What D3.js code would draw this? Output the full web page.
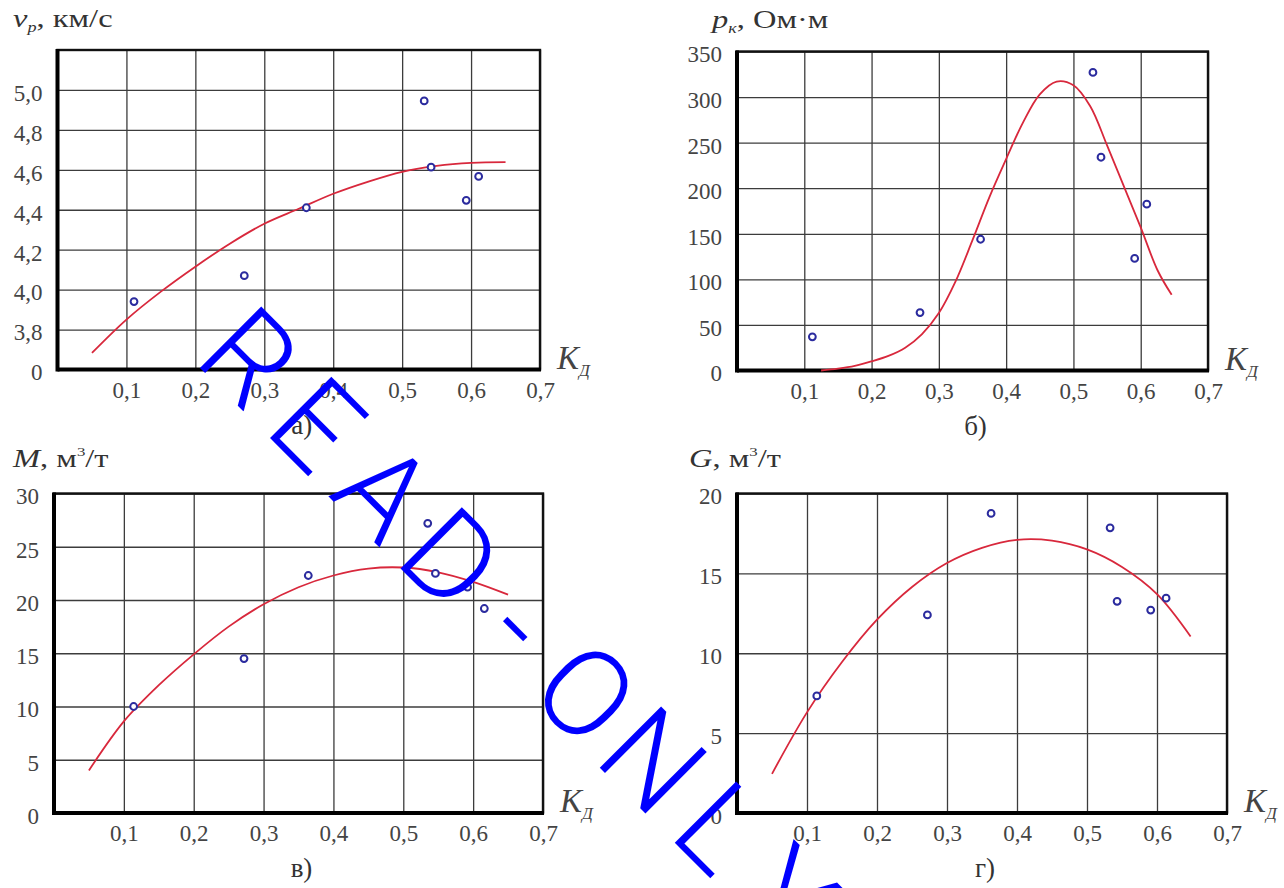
<!DOCTYPE html>
<html>
<head>
<meta charset="utf-8">
<script src="https://cdn.jsdelivr.net/npm/d3@7"></script>
<style>
body { margin: 0; background: #fff; }
svg { display: block; }
</style>
</head>
<body>
<div id="chart"></div>
<script>
const serif = "'Liberation Serif', 'Times New Roman', serif";

// shared x axis (K_Д)
const kTicks = [0.1, 0.2, 0.3, 0.4, 0.5, 0.6, 0.7];
const kTickLabels = ["0,1", "0,2", "0,3", "0,4", "0,5", "0,6", "0,7"];

// а) v_р, км/с
const vpK = [0.111, 0.271, 0.361, 0.532, 0.542, 0.593, 0.611];
const vpVal = [3.94, 4.07, 4.41, 4.945, 4.613, 4.447, 4.567];
const vpFitK = [0.05, 0.10, 0.15, 0.20, 0.25, 0.30, 0.35, 0.40, 0.45, 0.50, 0.55, 0.60, 0.65];
const vpFitVal = [3.683, 3.85, 3.99, 4.115, 4.23, 4.33, 4.405, 4.48, 4.54, 4.59, 4.62, 4.635, 4.638];
const vpTicks = [3.6, 3.8, 4.0, 4.2, 4.4, 4.6, 4.8, 5.0];
const vpTickLabels = ["0", "3,8", "4,0", "4,2", "4,4", "4,6", "4,8", "5,0"];

// б) p_к, Ом·м
const rhoK = [0.112, 0.272, 0.362, 0.529, 0.541, 0.591, 0.609];
const rhoVal = [37, 63.5, 144, 327, 234, 123, 182.5];
const rhoFitK = [0.125, 0.15, 0.175, 0.20, 0.225, 0.25, 0.275, 0.30, 0.325, 0.35, 0.375, 0.40, 0.425,
                 0.45, 0.475, 0.50, 0.525, 0.55, 0.575, 0.60, 0.625, 0.646];
const rhoFitVal = [0, 2, 5, 10, 16, 25, 40, 63, 98, 143, 190, 232, 272, 303, 317, 313, 290, 247, 202, 157, 110, 83];
const rhoTicks = [0, 50, 100, 150, 200, 250, 300, 350];
const rhoTickLabels = ["0", "50", "100", "150", "200", "250", "300", "350"];

// в) M, м3/т
const mK = [0.114, 0.272, 0.364, 0.535, 0.546, 0.592, 0.616];
const mVal = [10.0, 14.5, 22.3, 27.2, 22.5, 21.2, 19.2];
const mFitK = [0.05, 0.10, 0.15, 0.20, 0.25, 0.30, 0.35, 0.40, 0.45, 0.50, 0.55, 0.60, 0.65];
const mFitVal = [4.0, 8.6, 12.0, 14.9, 17.5, 19.6, 21.2, 22.3, 22.95, 23.05, 22.6, 21.7, 20.5];
const mTicks = [0, 5, 10, 15, 20, 25, 30];
const mTickLabels = ["0", "5", "10", "15", "20", "25", "30"];

// г) G, м3/т
const gK = [0.114, 0.272, 0.363, 0.533, 0.543, 0.591, 0.613];
const gVal = [7.33, 12.4, 18.75, 17.85, 13.25, 12.7, 13.45];
const gFitK = [0.05, 0.10, 0.15, 0.20, 0.25, 0.30, 0.35, 0.40, 0.45, 0.50, 0.55, 0.60, 0.648];
const gFitVal = [2.45, 6.3, 9.45, 12.1, 14.15, 15.65, 16.6, 17.1, 17.05, 16.5, 15.4, 13.7, 11.05];
const gTicks = [0, 5, 10, 15, 20];
const gTickLabels = ["0", "5", "10", "15", "20"];

const watermark = "READ-ONLY";

const W = 1284, H = 888;

const panels = [
    {box: {l: 57.5, r: 540, t: 50, b: 369.5}, yDomain: [3.6, 5.2], k: vpK, v: vpVal, fk: vpFitK, fv: vpFitVal,
     ticks: vpTicks, labels: vpTickLabels, title: "v", sub: "р", unit: ", км/с", sup: null, letter: "а)"},
    {box: {l: 737, r: 1208, t: 51.5, b: 370.5}, yDomain: [0, 350], k: rhoK, v: rhoVal, fk: rhoFitK, fv: rhoFitVal,
     ticks: rhoTicks, labels: rhoTickLabels, title: "p", sub: "к", unit: ", Ом·м", sup: null, letter: "б)"},
    {box: {l: 54, r: 543, t: 493.5, b: 813}, yDomain: [0, 30], k: mK, v: mVal, fk: mFitK, fv: mFitVal,
     ticks: mTicks, labels: mTickLabels, title: "M", sub: null, unit: ", м", sup: "3", letter: "в)"},
    {box: {l: 737, r: 1227, t: 493.5, b: 813}, yDomain: [0, 20], k: gK, v: gVal, fk: gFitK, fv: gFitVal,
     ticks: gTicks, labels: gTickLabels, title: "G", sub: null, unit: ", м", sup: "3", letter: "г)"}
];
const titlePos = [[13, 27], [712, 28], [13, 467], [689, 467]];

const svg = d3.select("#chart").append("svg")
    .attr("width", W).attr("height", H)
    .style("background", "#fff");

panels.forEach((p, i) => drawPanel(p, titlePos[i]));

function drawPanel(p, tp) {
    const bx = p.box;
    const x = d3.scaleLinear().domain([0, 0.7]).range([bx.l, bx.r]);
    const y = d3.scaleLinear().domain(p.yDomain).range([bx.b, bx.t]);
    const g = svg.append("g");

    //grid
    g.append("g")
        .attr("transform", `translate(0,${bx.b})`)
        .call(d3.axisBottom(x).tickValues(kTicks).tickSize(-(bx.b - bx.t)).tickFormat(""))
        .call(s => s.select(".domain").remove())
        .selectAll("line").attr("stroke", "#3c3c3c").attr("stroke-width", 1.3);
    g.append("g")
        .attr("transform", `translate(${bx.l},0)`)
        .call(d3.axisLeft(y).tickValues(p.ticks).tickSize(-(bx.r - bx.l)).tickFormat(""))
        .call(s => s.select(".domain").remove())
        .selectAll("line").attr("stroke", "#3c3c3c").attr("stroke-width", 1.3);

    //frame
    g.append("rect")
        .attr("x", bx.l).attr("y", bx.t)
        .attr("width", bx.r - bx.l).attr("height", bx.b - bx.t)
        .attr("fill", "none").attr("stroke", "#111").attr("stroke-width", 2.4);
    g.append("line").attr("x1", bx.l).attr("x2", bx.l).attr("y1", bx.t - 1).attr("y2", bx.b + 2)
        .attr("stroke", "#000").attr("stroke-width", 4);
    g.append("line").attr("x1", bx.l).attr("x2", bx.r + 1).attr("y1", bx.b).attr("y2", bx.b)
        .attr("stroke", "#000").attr("stroke-width", 4);

    //tick labels
    const xa = g.append("g")
        .attr("transform", `translate(0,${bx.b})`)
        .call(d3.axisBottom(x).tickValues(kTicks).tickSize(0).tickPadding(12).tickFormat((d, j) => kTickLabels[j]));
    xa.select(".domain").remove();
    xa.attr("font-family", serif).attr("font-size", 23);
    xa.selectAll("text").attr("fill", "#444").attr("font-family", serif);

    const ya = g.append("g")
        .attr("transform", `translate(${bx.l},0)`)
        .call(d3.axisLeft(y).tickValues(p.ticks).tickSize(0).tickPadding(15).tickFormat((d, j) => p.labels[j]));
    ya.select(".domain").remove();
    ya.attr("font-family", serif).attr("font-size", 23);
    ya.selectAll("text").attr("fill", "#444").attr("font-family", serif).attr("dy", "0.45em");

    //fit curve
    const line = d3.line()
        .x(d => x(d[0])).y(d => y(d[1]))
        .curve(d3.curveCatmullRom.alpha(0.5));
    g.append("path")
        .datum(p.fk.map((k, j) => [k, p.fv[j]]))
        .attr("d", line)
        .attr("fill", "none").attr("stroke", "#d8283c").attr("stroke-width", 1.8);

    //points
    g.selectAll("circle.pt")
        .data(p.k.map((k, j) => [k, p.v[j]]))
        .join("circle")
        .attr("class", "pt")
        .attr("cx", d => x(d[0])).attr("cy", d => y(d[1]))
        .attr("r", 3.4)
        .attr("fill", "#fff").attr("stroke", "#2b2b9e").attr("stroke-width", 2);

    //K_Д label
    const kl = g.append("text")
        .attr("x", bx.r + 17).attr("y", bx.b - 1)
        .attr("font-family", serif).attr("fill", "#444");
    kl.append("tspan").attr("font-size", 33).attr("font-style", "italic").text("K");
    kl.append("tspan").attr("font-size", 17).attr("font-style", "italic").attr("dy", 7).text("Д");

    //title
    const tt = g.append("text")
        .attr("transform", `translate(${tp[0]},${tp[1]}) scale(1.3,1)`)
        .attr("font-family", serif).attr("font-size", 25).attr("fill", "#333");
    tt.append("tspan").attr("font-style", "italic").text(p.title);
    if (p.sub) {
        tt.append("tspan").attr("font-style", "italic").attr("font-size", 14).attr("dy", 5).text(p.sub);
        tt.append("tspan").attr("dy", -5).text(p.unit);
    } else {
        tt.append("tspan").text(p.unit);
        tt.append("tspan").attr("font-size", 13).attr("dy", -11).text(p.sup);
        tt.append("tspan").attr("dy", 11).text("/т");
    }

    //panel letter
    g.append("text")
        .attr("x", (bx.l + bx.r) / 2 + 3).attr("y", bx.b + 64)
        .attr("text-anchor", "middle")
        .attr("font-family", serif).attr("font-size", 27).attr("fill", "#333")
        .text(p.letter);
}

//watermark, one fixed-pitch cell per letter
const pitch = 95;
svg.append("text")
    .attr("transform", "translate(186,354) rotate(45)")
    .attr("x", watermark.split("").map((c, i) => i * pitch + pitch / 2).join(" "))
    .attr("text-anchor", "middle")
    .attr("font-family", "Roboto, 'Open Sans', sans-serif")
    .attr("font-weight", 300)
    .attr("font-size", 122)
    .attr("fill", "#0000ff")
    .text(watermark);
</script>
</body>
</html>
